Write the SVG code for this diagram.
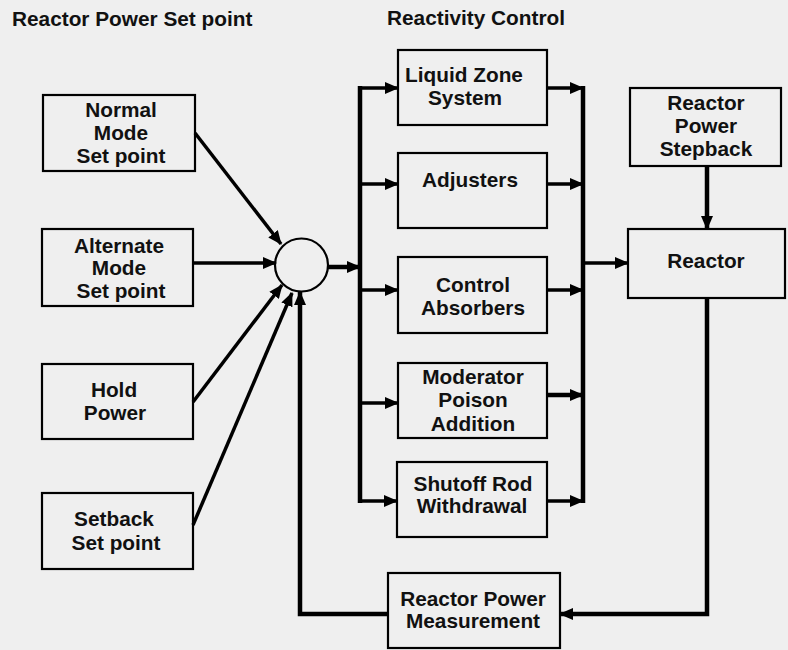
<svg xmlns="http://www.w3.org/2000/svg" width="788" height="650" viewBox="0 0 788 650">
<defs>
<style>
.box{fill:none;stroke:#000;stroke-width:2.2}
.t{font-family:"Liberation Sans",Arial,sans-serif;font-weight:bold;font-size:20.8px;fill:#111;text-anchor:middle}
.h{font-family:"Liberation Sans",Arial,sans-serif;font-weight:bold;font-size:20.8px;fill:#111}
.c{fill:none;stroke:#000;stroke-linejoin:miter}
.w3{stroke-width:3.5}
.w4{stroke-width:4.5}
</style>
<marker id="ah" viewBox="0 0 14 12" markerUnits="userSpaceOnUse" markerWidth="14" markerHeight="12" refX="13" refY="6" orient="auto">
<path d="M0,0 L14,6 L0,12 z" fill="#000"/>
</marker>
</defs>
<rect width="788" height="650" fill="#efefef"/>
<text class="h" x="12" y="26">Reactor Power Set point</text>
<text class="h" x="387" y="25">Reactivity Control</text>

<g id="normal"><rect class="box" x="43" y="95" width="152" height="76"/>
<text class="t" x="121" y="117">Normal</text><text class="t" x="121" y="140">Mode</text><text class="t" x="121" y="163">Set point</text></g>
<g id="alternate"><rect class="box" x="42" y="229" width="151" height="77"/>
<text class="t" x="119" y="253">Alternate</text><text class="t" x="119" y="275">Mode</text><text class="t" x="121" y="298">Set point</text></g>
<g id="hold"><rect class="box" x="42" y="364" width="151" height="75"/>
<text class="t" x="114" y="397">Hold</text><text class="t" x="115" y="420">Power</text></g>
<g id="setback"><rect class="box" x="42" y="493" width="151" height="76"/>
<text class="t" x="114" y="526">Setback</text><text class="t" x="116" y="550">Set point</text></g>
<g id="sum"><circle cx="301.5" cy="265" r="26.5" fill="none" stroke="#000" stroke-width="2.2"/></g>

<g id="lzs"><rect class="box" x="398" y="50" width="149" height="75"/>
<text class="t" x="464" y="82">Liquid Zone</text><text class="t" x="465" y="105">System</text></g>
<g id="adjusters"><rect class="box" x="398" y="153" width="149" height="75"/>
<text class="t" x="470" y="187">Adjusters</text></g>
<g id="absorbers"><rect class="box" x="398" y="257" width="149" height="76"/>
<text class="t" x="473" y="292">Control</text><text class="t" x="473" y="315">Absorbers</text></g>
<g id="moderator"><rect class="box" x="398" y="363" width="149" height="75"/>
<text class="t" x="473" y="384">Moderator</text><text class="t" x="473" y="407">Poison</text><text class="t" x="473" y="431">Addition</text></g>
<g id="shutoff"><rect class="box" x="397" y="462" width="150" height="75"/>
<text class="t" x="473" y="491">Shutoff Rod</text><text class="t" x="472" y="513">Withdrawal</text></g>

<g id="stepback"><rect class="box" x="630" y="88" width="151" height="78"/>
<text class="t" x="706" y="110">Reactor</text><text class="t" x="706" y="133">Power</text><text class="t" x="706" y="156">Stepback</text></g>
<g id="reactor"><rect class="box" x="628" y="229" width="157" height="69"/>
<text class="t" x="706" y="268">Reactor</text></g>
<g id="measurement"><rect class="box" x="388" y="573" width="172" height="75"/>
<text class="t" x="473" y="606">Reactor Power</text><text class="t" x="473" y="628">Measurement</text></g>

<g id="connectors">
<path class="c w3" d="M195,133 L281,244" marker-end="url(#ah)"/>
<path class="c w3" d="M193,263 L276,263" marker-end="url(#ah)"/>
<path class="c w3" d="M193,402 L282,285" marker-end="url(#ah)"/>
<path class="c w3" d="M193,525 L292,293" marker-end="url(#ah)"/>
<path class="c w4" d="M388,614 L300,614 L300,292" marker-end="url(#ah)"/>
<path class="c w4" d="M328,267 L360,267" marker-end="url(#ah)"/>
<path class="c w4" d="M360,86 L360,503"/>
<path class="c w3" d="M360,88 L398,88" marker-end="url(#ah)"/>
<path class="c w3" d="M360,184 L398,184" marker-end="url(#ah)"/>
<path class="c w3" d="M360,290 L398,290" marker-end="url(#ah)"/>
<path class="c w3" d="M360,403 L398,403" marker-end="url(#ah)"/>
<path class="c w3" d="M360,501 L397,501" marker-end="url(#ah)"/>
<path class="c w3" d="M547,88 L583,88" marker-end="url(#ah)"/>
<path class="c w3" d="M547,184 L583,184" marker-end="url(#ah)"/>
<path class="c w3" d="M547,290 L583,290" marker-end="url(#ah)"/>
<path class="c w4" d="M547,395 L583,395" marker-end="url(#ah)"/>
<path class="c w3" d="M547,501 L583,501" marker-end="url(#ah)"/>
<path class="c w4" d="M583,86 L583,503"/>
<path class="c w3" d="M583,263 L628,263" marker-end="url(#ah)"/>
<path class="c w4" d="M707,166 L707,229" marker-end="url(#ah)"/>
<path class="c w4" d="M707,298 L707,614 L560,614" marker-end="url(#ah)"/>
</g>
</svg>
